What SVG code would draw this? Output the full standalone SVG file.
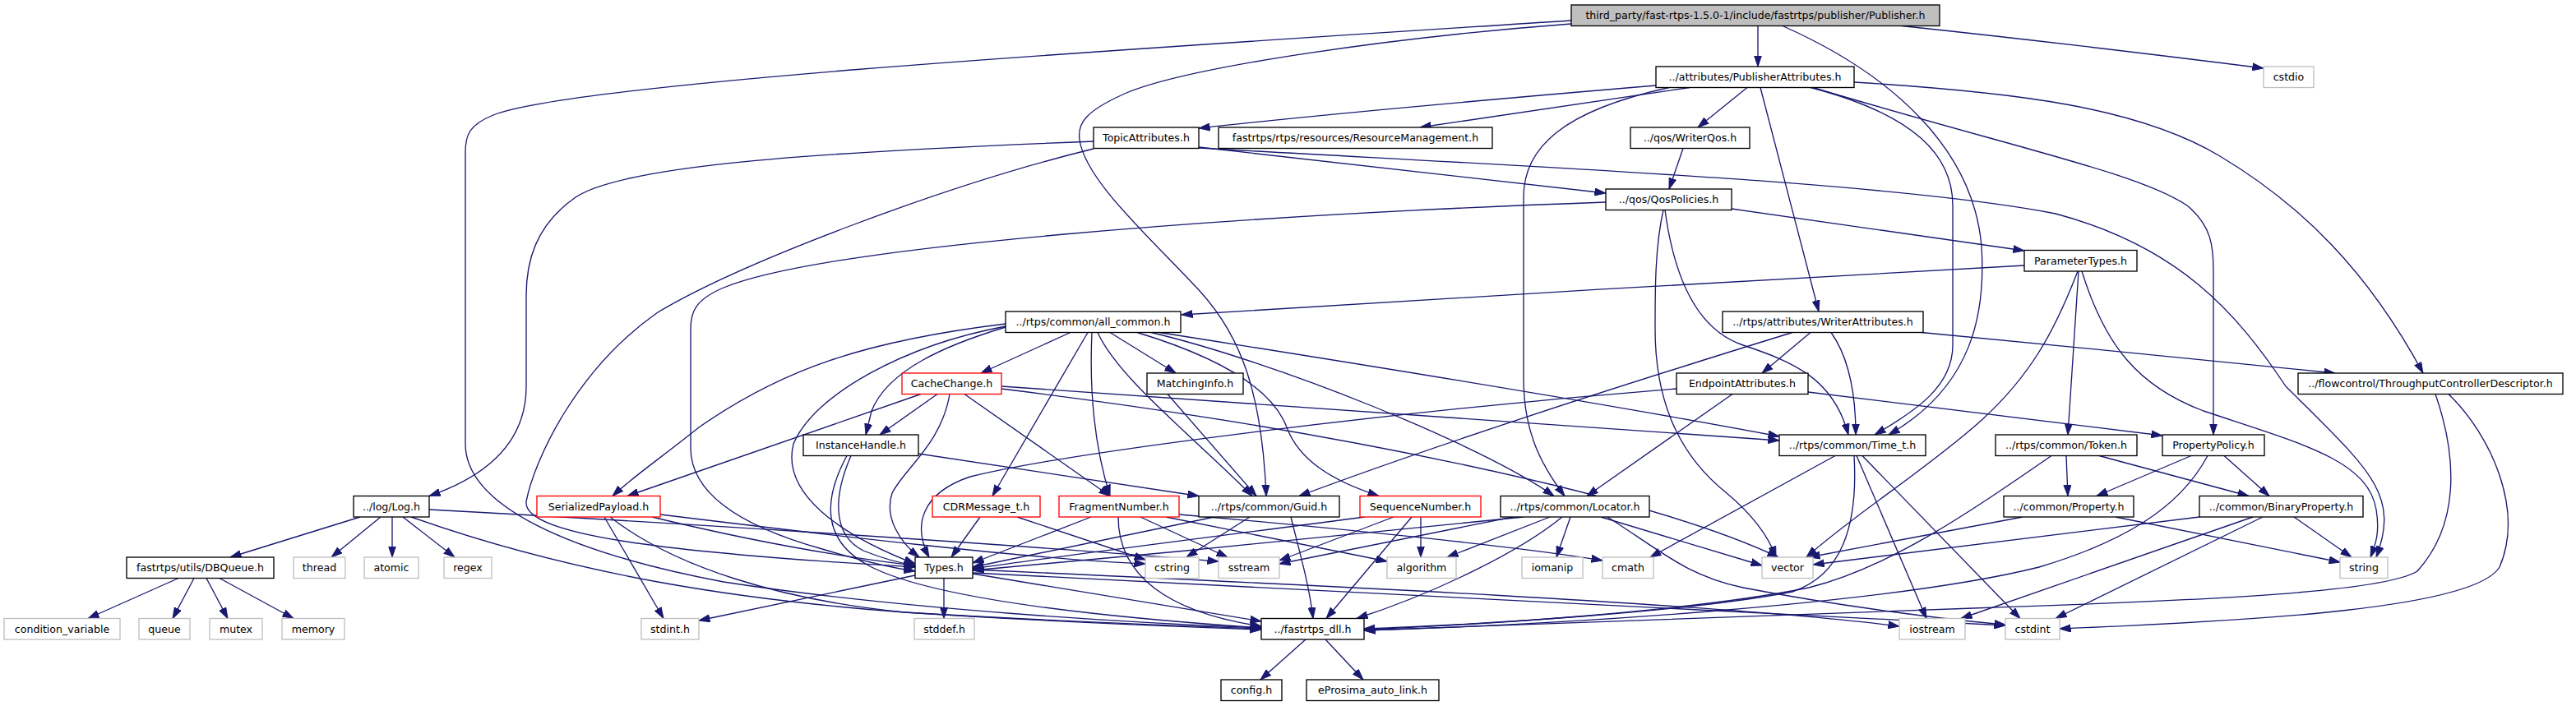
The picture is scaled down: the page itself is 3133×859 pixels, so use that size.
<svg xmlns="http://www.w3.org/2000/svg" width="3133" height="859" viewBox="0 0 3133 859">
<style>
.n rect{fill:#fff;stroke:#000;stroke-width:1.33}
.g rect{fill:#fff;stroke:#bfbfbf;stroke-width:1.33}
.r rect{fill:#fff;stroke:#ff0000;stroke-width:1.33}
.root rect{fill:#bfbfbf;stroke:#000;stroke-width:1.33}
text{font-family:"DejaVu Sans","Liberation Sans",sans-serif;font-size:12.6px;text-anchor:middle;fill:#000}
#edges path{fill:none;stroke:#191970;stroke-width:1.33;marker-end:url(#a)}
</style>
<defs>
<marker id="a" markerUnits="userSpaceOnUse" viewBox="0 0 14 10" markerWidth="14" markerHeight="10" refX="13.5" refY="5" orient="auto">
<path d="M0,0.5 L13.5,5 L0,9.5 z" fill="#191970" stroke="#191970" stroke-width="1"/>
</marker>
</defs>
<rect width="3133" height="859" fill="#fff"/>
<g id="edges">
<path d="M2138,31.5 L2138,81"/>
<path d="M2313,31.5 C2450,46 2650,70 2753,83"/>
<path d="M1911,25 C1400,58 700,100 600,140 C570,152 566,165 566,185 L566,540 C566,615 690,672 880,708 C1100,742 1380,758 1534,764"/>
<path d="M1911,29 C1700,45 1450,80 1370,113 C1320,135 1310,150 1313,170 C1320,220 1400,290 1460,355 C1510,410 1535,480 1540,603.5"/>
<path d="M2168,31.5 C2300,90 2400,180 2410,300 C2415,380 2400,470 2297,529"/>
<path d="M2014,104 C1800,122 1600,140 1458,156"/>
<path d="M2055,106.5 L1727,155"/>
<path d="M2125,106.5 L2065,155"/>
<path d="M2141,106.5 L2212,379"/>
<path d="M2030,106.5 C1900,135 1853,180 1853,240 L1853,460 C1853,520 1870,560 1903,603.5"/>
<path d="M2202,106.5 C2330,140 2375,190 2375,250 L2375,420 C2375,470 2330,500 2280,529"/>
<path d="M2205,106.5 C2450,180 2600,210 2660,250 C2690,275 2692,300 2692,330 L2692,529"/>
<path d="M2255,100 C2450,112 2600,130 2700,190 C2800,250 2880,330 2947,454"/>
<path d="M1458,180 C1800,200 2300,220 2500,260 C2650,300 2720,380 2780,470 C2880,570 2920,600 2890,678"/>
<path d="M1458,179 L1953,235"/>
<path d="M1330,172 C1000,185 760,200 700,240 C650,275 640,320 640,360 L640,470 C640,540 590,580 522,603.5"/>
<path d="M1330,181 C1150,225 900,320 800,380 C700,450 650,560 640,610 C635,650 800,672 1113,690"/>
<path d="M1953,246 C1500,262 1000,300 880,350 C845,365 840,380 840,400 L840,545 C840,600 900,640 1000,668 C1050,683 1080,690 1113,695"/>
<path d="M2023,255.5 C2013,300 2013,350 2013,400 C2013,500 2050,560 2100,600 C2130,625 2150,650 2160,678"/>
<path d="M2025,255.5 C2035,330 2060,400 2120,420 C2180,440 2230,460 2248,529"/>
<path d="M2106,254 L2462,305"/>
<path d="M2047,180.5 L2030,230"/>
<path d="M2462,323 C2200,338 1700,365 1437,383"/>
<path d="M2527,330 C2500,400 2470,460 2400,520 C2330,580 2250,630 2197,678"/>
<path d="M2528,330 L2515,529"/>
<path d="M2532,330 C2560,420 2600,470 2680,500 C2800,540 2880,560 2890,620 C2895,650 2888,665 2883,678"/>
<path d="M2202,404.5 L2143,454"/>
<path d="M2227,404.5 C2245,430 2257,470 2257,529"/>
<path d="M2180,404.5 C2000,460 1750,540 1580,603.5"/>
<path d="M2337,404.5 C2500,420 2700,440 2840,454"/>
<path d="M2107,479.5 L1930,603.5"/>
<path d="M2039,473 C1700,500 1300,550 1180,580 C1120,600 1110,640 1130,678"/>
<path d="M2199,477 L2630,530"/>
<path d="M2232,554.5 L2007,678"/>
<path d="M2255,554.5 C2260,640 2240,700 2180,720 C2050,745 1800,760 1659,765"/>
<path d="M2258,554.5 L2343,752.5"/>
<path d="M2265,554.5 L2457,752.5"/>
<path d="M2495,554.5 C2400,620 2300,690 2200,715 C2050,745 1800,760 1659,766"/>
<path d="M2513,554.5 L2515,603.5"/>
<path d="M2553,554.5 L2735,603.5"/>
<path d="M2665,554.5 L2550,603.5"/>
<path d="M2685,554.5 C2650,620 2580,660 2480,690 C2300,735 1900,760 1659,767"/>
<path d="M2705,554.5 L2760,603.5"/>
<path d="M2460,629 L2200,678"/>
<path d="M2573,629 L2846,684"/>
<path d="M2675,629 L2205,687"/>
<path d="M2740,629 L2385,752.5"/>
<path d="M2752,629 L2500,752.5"/>
<path d="M2790,629 L2860,678"/>
<path d="M2962,479.5 C2990,560 2990,640 2940,695 C2900,720 2700,730 2400,740 C2100,750 1850,760 1659,767"/>
<path d="M2978,479.5 C3030,530 3070,620 3040,690 C3010,740 2750,755 2505,765"/>
<path d="M1148,703.5 L1148,752.5"/>
<path d="M1113,700 L850,755"/>
<path d="M1183,698 L1534,756"/>
<path d="M1183,693 C1600,712 2100,735 2310,762"/>
<path d="M1183,697 C1700,725 2200,752 2439,761"/>
<path d="M1588,778 L1533,827"/>
<path d="M1612,778 L1658,827"/>
<path d="M438,629 L280,678"/>
<path d="M463,629 L403,678"/>
<path d="M477,629 L477,678"/>
<path d="M490,629 L553,678"/>
<path d="M500,629 C700,700 900,730 1100,745 C1300,757 1450,762 1534,765"/>
<path d="M522,620 C800,635 1200,660 1482,683"/>
<path d="M217,703.5 L107,752.5"/>
<path d="M236,703.5 L210,752.5"/>
<path d="M251,703.5 L277,752.5"/>
<path d="M267,703.5 L357,752.5"/>
<path d="M735,629 L807,752.5"/>
<path d="M742,629 C820,690 950,730 1100,745 C1300,758 1450,763 1534,766"/>
<path d="M803,626 C1000,650 1250,680 1393,686"/>
<path d="M793,629 C900,655 1000,675 1113,688"/>
<path d="M1192,629 L1157,678"/>
<path d="M1237,629 L1393,681"/>
<path d="M1327,629 L1183,685"/>
<path d="M1360,629 C1360,700 1420,745 1534,762"/>
<path d="M1387,629 L1493,678"/>
<path d="M1418,629 L1687,683"/>
<path d="M1434,626 C1600,640 1850,665 1949,682"/>
<path d="M1477,629 L1183,690"/>
<path d="M1570,629 C1580,670 1592,710 1597,752.5"/>
<path d="M1520,629 L1443,678"/>
<path d="M1660,629 C1500,650 1300,675 1183,692"/>
<path d="M1695,629 L1556,682"/>
<path d="M1717,629 L1613,752.5"/>
<path d="M1728,629 L1728,678"/>
<path d="M1853,629 C1700,645 1400,675 1183,694"/>
<path d="M1840,629 L1556,686"/>
<path d="M1885,629 L1760,678"/>
<path d="M1900,629 C1850,670 1750,720 1650,752.5"/>
<path d="M1910,629 L1893,678"/>
<path d="M1947,629 L2143,688"/>
<path d="M1955,629 C2020,670 2050,700 2120,715 C2250,740 2380,755 2439,760"/>
<path d="M1117,552 L1458,603.5"/>
<path d="M1035,554.5 C1015,600 1010,650 1050,670 C1080,682 1100,686 1113,688"/>
<path d="M1030,554.5 C1000,610 1000,660 1060,690 C1150,735 1400,755 1534,764"/>
<path d="M1120,479.5 L763,603.5"/>
<path d="M1140,479.5 L1070,529"/>
<path d="M1155,479.5 C1145,540 1100,570 1085,600 C1075,630 1095,660 1118,678"/>
<path d="M1173,479.5 L1350,603.5"/>
<path d="M1218,470 L2164,536"/>
<path d="M1218,473 C1600,520 2000,600 2163,678"/>
<path d="M1302,404.5 L1193,454"/>
<path d="M1223,398 C1150,420 1080,450 1060,500 L1053,529"/>
<path d="M1223,394 C1050,415 950,450 850,520 C800,560 770,580 745,603.5"/>
<path d="M1223,397 C1100,420 990,480 965,540 C950,600 1020,650 1113,686"/>
<path d="M1323,404.5 L1207,603.5"/>
<path d="M1328,404.5 C1325,470 1330,540 1350,603.5"/>
<path d="M1350,404.5 L1430,454"/>
<path d="M1335,404.5 C1360,460 1450,530 1523,603.5"/>
<path d="M1383,404.5 C1500,440 1550,480 1565,520 C1580,560 1620,585 1677,603.5"/>
<path d="M1400,404.5 C1550,440 1800,540 1890,603.5"/>
<path d="M1410,404.5 C1700,450 2000,500 2164,531"/>
<path d="M1420,479.5 L1528,603.5"/>
</g>
<g id="root" class="root"><rect x="1911" y="6" width="448" height="25.5"/><text x="2135" y="23.2">third_party/fast-rtps-1.5.0-1/include/fastrtps/publisher/Publisher.h</text></g>
<g id="cstdio" class="g"><rect x="2753" y="81" width="61" height="25.5"/><text x="2783.5" y="98.2">cstdio</text></g>
<g id="PublisherAttributes" class="n"><rect x="2014" y="81" width="241" height="25.5"/><text x="2134.5" y="98.2">../attributes/PublisherAttributes.h</text></g>
<g id="TopicAttributes" class="n"><rect x="1330" y="155" width="128" height="25.5"/><text x="1394" y="172.2">TopicAttributes.h</text></g>
<g id="ResourceManagement" class="n"><rect x="1482" y="155" width="333" height="25.5"/><text x="1648.5" y="172.2">fastrtps/rtps/resources/ResourceManagement.h</text></g>
<g id="WriterQos" class="n"><rect x="1983" y="155" width="145" height="25.5"/><text x="2055.5" y="172.2">../qos/WriterQos.h</text></g>
<g id="QosPolicies" class="n"><rect x="1953" y="230" width="153" height="25.5"/><text x="2029.5" y="247.2">../qos/QosPolicies.h</text></g>
<g id="ParameterTypes" class="n"><rect x="2462" y="304.5" width="137" height="25.5"/><text x="2530.5" y="321.7">ParameterTypes.h</text></g>
<g id="all_common" class="n"><rect x="1223" y="379" width="213" height="25.5"/><text x="1329.5" y="396.2">../rtps/common/all_common.h</text></g>
<g id="WriterAttributes" class="n"><rect x="2095" y="379" width="244" height="25.5"/><text x="2217" y="396.2">../rtps/attributes/WriterAttributes.h</text></g>
<g id="CacheChange" class="r"><rect x="1097" y="454" width="121" height="25.5"/><text x="1157.5" y="471.2">CacheChange.h</text></g>
<g id="MatchingInfo" class="n"><rect x="1395" y="454" width="117" height="25.5"/><text x="1453.5" y="471.2">MatchingInfo.h</text></g>
<g id="EndpointAttributes" class="n"><rect x="2039" y="454" width="160" height="25.5"/><text x="2119" y="471.2">EndpointAttributes.h</text></g>
<g id="ThroughputControllerDescriptor" class="n"><rect x="2795" y="454" width="322" height="25.5"/><text x="2956" y="471.2">../flowcontrol/ThroughputControllerDescriptor.h</text></g>
<g id="InstanceHandle" class="n"><rect x="977" y="529" width="140" height="25.5"/><text x="1047" y="546.2">InstanceHandle.h</text></g>
<g id="Time_t" class="n"><rect x="2164" y="529" width="178" height="25.5"/><text x="2253" y="546.2">../rtps/common/Time_t.h</text></g>
<g id="Token" class="n"><rect x="2427" y="529" width="172" height="25.5"/><text x="2513" y="546.2">../rtps/common/Token.h</text></g>
<g id="PropertyPolicy" class="n"><rect x="2630" y="529" width="124" height="25.5"/><text x="2692" y="546.2">PropertyPolicy.h</text></g>
<g id="Log" class="n"><rect x="430" y="603.5" width="92" height="25.5"/><text x="476" y="620.7">../log/Log.h</text></g>
<g id="SerializedPayload" class="r"><rect x="653" y="603.5" width="150" height="25.5"/><text x="728" y="620.7">SerializedPayload.h</text></g>
<g id="CDRMessage_t" class="r"><rect x="1134" y="603.5" width="131" height="25.5"/><text x="1199.5" y="620.7">CDRMessage_t.h</text></g>
<g id="FragmentNumber" class="r"><rect x="1288" y="603.5" width="146" height="25.5"/><text x="1361" y="620.7">FragmentNumber.h</text></g>
<g id="Guid" class="n"><rect x="1458" y="603.5" width="171" height="25.5"/><text x="1543.5" y="620.7">../rtps/common/Guid.h</text></g>
<g id="SequenceNumber" class="r"><rect x="1654" y="603.5" width="147" height="25.5"/><text x="1727.5" y="620.7">SequenceNumber.h</text></g>
<g id="Locator" class="n"><rect x="1825" y="603.5" width="181" height="25.5"/><text x="1915.5" y="620.7">../rtps/common/Locator.h</text></g>
<g id="Property" class="n"><rect x="2437" y="603.5" width="158" height="25.5"/><text x="2516" y="620.7">../common/Property.h</text></g>
<g id="BinaryProperty" class="n"><rect x="2675" y="603.5" width="199" height="25.5"/><text x="2774.5" y="620.7">../common/BinaryProperty.h</text></g>
<g id="DBQueue" class="n"><rect x="154" y="678" width="179" height="25.5"/><text x="243.5" y="695.2">fastrtps/utils/DBQueue.h</text></g>
<g id="thread" class="g"><rect x="357" y="678" width="63" height="25.5"/><text x="388.5" y="695.2">thread</text></g>
<g id="atomic" class="g"><rect x="443" y="678" width="66" height="25.5"/><text x="476" y="695.2">atomic</text></g>
<g id="regex" class="g"><rect x="540" y="678" width="58" height="25.5"/><text x="569" y="695.2">regex</text></g>
<g id="Types" class="n"><rect x="1113" y="678" width="70" height="25.5"/><text x="1148" y="695.2">Types.h</text></g>
<g id="cstring" class="g"><rect x="1393" y="678" width="65" height="25.5"/><text x="1425.5" y="695.2">cstring</text></g>
<g id="sstream" class="g"><rect x="1482" y="678" width="74" height="25.5"/><text x="1519" y="695.2">sstream</text></g>
<g id="algorithm" class="g"><rect x="1687" y="678" width="84" height="25.5"/><text x="1729" y="695.2">algorithm</text></g>
<g id="iomanip" class="g"><rect x="1851" y="678" width="74" height="25.5"/><text x="1888" y="695.2">iomanip</text></g>
<g id="cmath" class="g"><rect x="1949" y="678" width="62" height="25.5"/><text x="1980" y="695.2">cmath</text></g>
<g id="vector" class="g"><rect x="2143" y="678" width="62" height="25.5"/><text x="2174" y="695.2">vector</text></g>
<g id="string" class="g"><rect x="2846" y="678" width="58" height="25.5"/><text x="2875" y="695.2">string</text></g>
<g id="condition_variable" class="g"><rect x="5" y="752.5" width="141" height="25.5"/><text x="75.5" y="769.7">condition_variable</text></g>
<g id="queue" class="g"><rect x="169" y="752.5" width="62" height="25.5"/><text x="200" y="769.7">queue</text></g>
<g id="mutex" class="g"><rect x="255" y="752.5" width="64" height="25.5"/><text x="287" y="769.7">mutex</text></g>
<g id="memory" class="g"><rect x="343" y="752.5" width="76" height="25.5"/><text x="381" y="769.7">memory</text></g>
<g id="stdint" class="g"><rect x="780" y="752.5" width="70" height="25.5"/><text x="815" y="769.7">stdint.h</text></g>
<g id="stddef" class="g"><rect x="1112" y="752.5" width="73" height="25.5"/><text x="1148.5" y="769.7">stddef.h</text></g>
<g id="fastrtps_dll" class="n"><rect x="1534" y="752.5" width="125" height="25.5"/><text x="1596.5" y="769.7">../fastrtps_dll.h</text></g>
<g id="iostream" class="g"><rect x="2310" y="752.5" width="80" height="25.5"/><text x="2350" y="769.7">iostream</text></g>
<g id="cstdint" class="g"><rect x="2439" y="752.5" width="66" height="25.5"/><text x="2472" y="769.7">cstdint</text></g>
<g id="config" class="n"><rect x="1485" y="827" width="74" height="25.5"/><text x="1522" y="844.2">config.h</text></g>
<g id="eProsima_auto_link" class="n"><rect x="1589" y="827" width="161" height="25.5"/><text x="1669.5" y="844.2">eProsima_auto_link.h</text></g>
</svg>
